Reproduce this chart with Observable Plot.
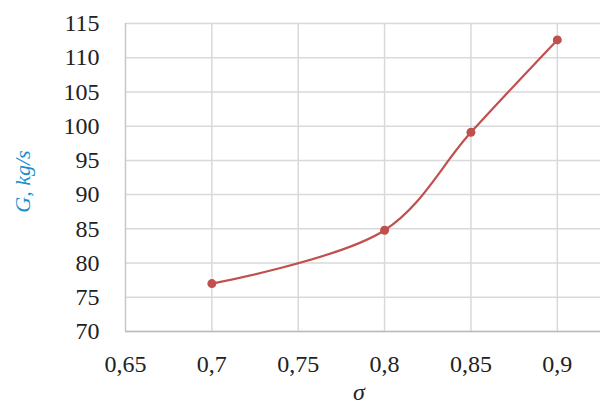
<!DOCTYPE html>
<html>
<head>
<meta charset="utf-8">
<script src="https://cdn.jsdelivr.net/npm/d3@7"></script>
<script src="https://cdn.jsdelivr.net/npm/@observablehq/plot@0.6"></script>
<style>
  html, body { margin: 0; padding: 0; background: #fff; }
  #chart svg { display: block; }
</style>
</head>
<body>
<div id="chart"></div>
<script>
const sigma = [0.7, 0.8, 0.85, 0.9];
const G = [77.0, 84.8, 99.1, 112.6];
const xTicks = [0.65, 0.7, 0.75, 0.8, 0.85, 0.9];
const yTicks = [70, 75, 80, 85, 90, 95, 100, 105, 110, 115];
const xLabel = "σ";
const yLabel = "G, kg/s";

const data = sigma.map((s, i) => ({s, g: G[i]}));
const fmt = d => String(d).replace(".", ",");
const font = "'Liberation Serif', 'Times New Roman', serif";

const chart = Plot.plot({
  width: 606,
  height: 405,
  marginTop: 23,
  marginBottom: 74,
  marginLeft: 125,
  marginRight: 6,
  style: {fontFamily: font, fontSize: "24px", color: "#222", background: "#fff"},
  x: {domain: [0.65, 0.925], ticks: xTicks, tickFormat: fmt},
  y: {domain: [70, 115], ticks: yTicks},
  marks: [
    Plot.gridY(yTicks, {stroke: "#d9d9d9", strokeOpacity: 1, strokeWidth: 1.5}),
    Plot.gridX(xTicks.slice(1), {stroke: "#d9d9d9", strokeOpacity: 1, strokeWidth: 1.5}),
    Plot.ruleX([0.65], {stroke: "#c8c8c8", strokeWidth: 1.5}),
    Plot.ruleY([70], {stroke: "#bcbcbc", strokeWidth: 1.5}),
    Plot.axisX({ticks: xTicks, tickFormat: fmt, tickSize: 0, tickPadding: 23, label: null, fontSize: 24, fontFamily: font}),
    Plot.axisY({ticks: yTicks, tickSize: 0, tickPadding: 26, label: null, fontSize: 24, fontFamily: font}),
    Plot.line(data, {x: "s", y: "g", stroke: "#c0504d", strokeWidth: 2.2, curve: "catmull-rom"}),
    Plot.dot(data, {x: "s", y: "g", fill: "#c0504d", r: 4.5}),
    Plot.text([yLabel], {frameAnchor: "left", textAnchor: "middle", dx: -103, dy: 4, rotate: -90, fill: "#1a8ccc", fontSize: 22, fontStyle: "italic", fontFamily: font}),
    Plot.text([xLabel], {frameAnchor: "bottom", textAnchor: "middle", lineAnchor: "bottom", dx: -4, dy: 68, fill: "#222", fontSize: 24, fontStyle: "italic", fontFamily: font})
  ]
});
document.getElementById("chart").appendChild(chart);
</script>
</body>
</html>
